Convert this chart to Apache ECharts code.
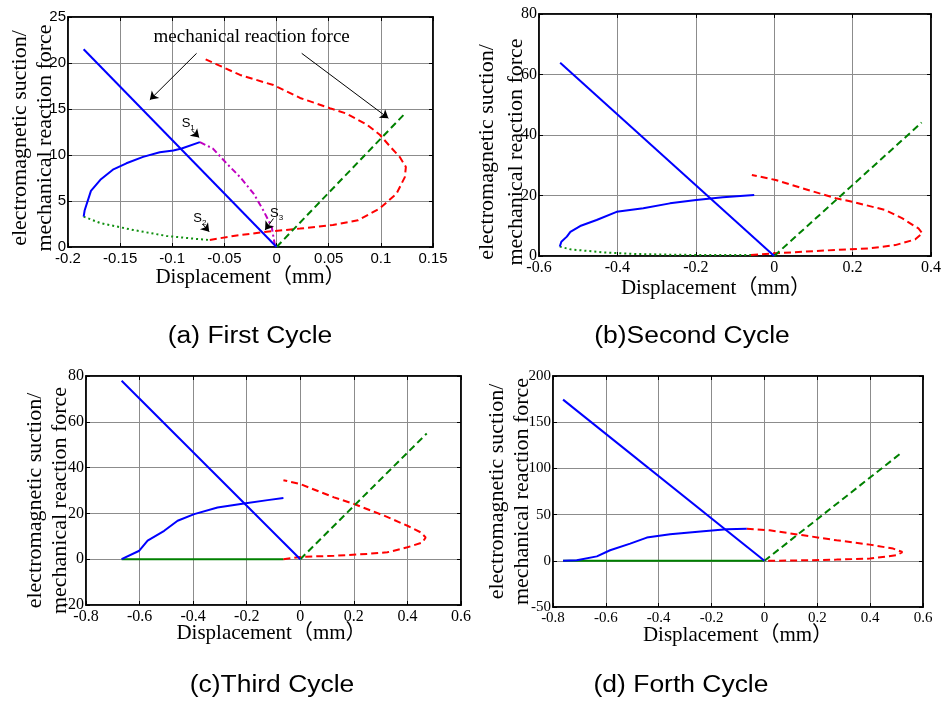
<!DOCTYPE html>
<html>
<head>
<meta charset="utf-8">
<script src="https://cdn.jsdelivr.net/npm/echarts@6/dist/echarts.min.js"></script>
<style>
  html, body { margin: 0; padding: 0; background: #fff; }
  #chart { width: 944px; height: 702px; }
</style>
</head>
<body>
<div id="chart"></div>
<script>
// ---- data: [displacement mm, force] ----
// (a) first cycle
const aMechClose = [[-0.185, 21.5], [0, 0]];
const aSuction = [[-0.185, 3.3], [-0.184, 4.0], [-0.178, 6.1], [-0.169, 7.3], [-0.157, 8.4], [-0.144, 9.1],
  [-0.128, 9.8], [-0.112, 10.3], [-0.099, 10.5], [-0.091, 10.7], [-0.0735, 11.4]];
const aDecay = [[-0.0735, 11.4], [-0.061, 10.7], [-0.048, 9.1], [-0.035, 7.6], [-0.022, 5.8],
  [-0.0128, 4.0], [-0.0047, 2.2], [-0.0015, 0.1]];
const aRelease = [[-0.185, 3.3], [-0.169, 2.6], [-0.1375, 1.85], [-0.1055, 1.2], [-0.0735, 0.84], [-0.064, 0.76]];
const aOpen = [[-0.064, 0.76], [-0.0415, 1.2], [-0.0095, 1.66], [0.0225, 2.0], [0.054, 2.4], [0.078, 2.9],
  [0.099, 4.2], [0.115, 5.8], [0.123, 7.6], [0.124, 8.7], [0.118, 9.8], [0.109, 10.9], [0.099, 12.2],
  [0.0865, 13.3], [0.067, 14.5], [0.051, 15.1], [0.0225, 16.2], [-0.003, 17.6], [-0.035, 18.7], [-0.068, 20.4]];
const aMechOpen = [[0, 0], [0.123, 14.5]];

// (b) second cycle
const bMechClose = [[-0.546, 63.9], [0, 0]];
const bSuction = [[-0.547, 3.1], [-0.543, 4.7], [-0.529, 6.4], [-0.52, 8.0], [-0.495, 9.9], [-0.453, 11.9],
  [-0.402, 14.6], [-0.334, 15.8], [-0.266, 17.4], [-0.199, 18.5], [-0.131, 19.4], [-0.051, 20.2]];
const bRelease = [[-0.547, 3.1], [-0.52, 2.2], [-0.436, 1.2], [-0.351, 0.66], [-0.266, 0.43], [-0.182, 0.33], [-0.059, 0.33]];
const bOpen = [[-0.059, 0.3], [0, 0.9], [0.072, 1.4], [0.157, 2.0], [0.241, 2.5], [0.309, 3.6], [0.36, 5.5],
  [0.378, 7.5], [0.368, 9.1], [0.326, 12.5], [0.283, 15.2], [0.199, 17.95], [0.157, 19.1], [0.072, 22.4],
  [0.004, 25.1], [-0.057, 26.8]];
const bMechOpen = [[0, 0], [0.376, 44.1]];

// (c) third cycle
const cMechClose = [[-0.667, 77.9], [0, 0]];
const cSuction = [[-0.667, 0], [-0.601, 3.7], [-0.57, 8.1], [-0.508, 12.4], [-0.458, 16.8], [-0.396, 19.7],
  [-0.309, 22.6], [-0.21, 24.3], [-0.122, 25.8], [-0.063, 26.7]];
const cRelease = [[-0.667, 0], [-0.063, 0]];
const cOpen = [[-0.063, 0], [0, 1.0], [0.126, 1.5], [0.25, 2.3], [0.325, 3.0], [0.4, 5.2], [0.456, 7.3],
  [0.468, 9.5], [0.45, 11.7], [0.4, 14.6], [0.313, 19.0], [0.201, 24.1], [0.126, 27.0], [0, 32.8], [-0.063, 34.5]];
const cMechOpen = [[0, 0], [0.472, 54.9]];

// (d) forth cycle
const dMechClose = [[-0.762, 174.4], [0, 0]];
const dSuction = [[-0.762, 0], [-0.71, 0.5], [-0.634, 4.8], [-0.584, 11.4], [-0.508, 18.6], [-0.445, 25.1],
  [-0.357, 28.7], [-0.231, 31.9], [-0.143, 34.1], [-0.067, 34.8]];
const dRelease = [[-0.762, 0], [0, 0]];
const dOpen = [[-0.067, 34.8], [0.02, 33], [0.147, 27.6], [0.273, 22.2], [0.399, 17.5], [0.487, 13.2],
  [0.522, 9.5], [0.499, 6.0], [0.399, 2.4], [0.273, 1.3], [0.147, 0.5], [0, 0]];
const dMechOpen = [[0, 0], [0.522, 117.7]];

// axis ranges [min, max, interval]
const aXTicks = [-0.2, 0.15, 0.05], aYTicks = [0, 25, 5];
const bXTicks = [-0.6, 0.4, 0.2], bYTicks = [0, 80, 20];
const cXTicks = [-0.8, 0.6, 0.2], cYTicks = [-20, 80, 20];
const dXTicks = [-0.8, 0.6, 0.2], dYTicks = [-50, 200, 50];

const captions = ['(a) First Cycle', '(b)Second Cycle', '(c)Third Cycle', '(d) Forth Cycle'];
const xName = 'Displacement（mm）';
const yName = 'electromagnetic suction/\nmechanical reaction force';

const serif = "'Liberation Serif', 'Times New Roman', serif";
const nameFont = "'Liberation Serif', 'Noto Sans CJK SC', serif";
const sans = "'Liberation Sans', Arial, sans-serif";

const panels = [
  { grid: { left: 68, top: 17, width: 365, height: 230 }, x: aXTicks, y: aYTicks, font: sans, size: 15,
    xGap: 30, xPad: 0, yGap: 35, yLine: 25, yPad: 12, cap: [250, 337] },
  { grid: { left: 539, top: 14, width: 394, height: 242 }, x: bXTicks, y: bYTicks, font: serif, size: 16,
    xGap: 32, xPad: 38, yGap: 37, yLine: 29, yPad: 34, cap: [692, 337] },
  { grid: { left: 86, top: 376, width: 375, height: 229 }, x: cXTicks, y: cYTicks, font: serif, size: 16,
    xGap: 28, xPad: 4, yGap: 38, yLine: 25, yPad: 20, cap: [272, 686] },
  { grid: { left: 553, top: 376, width: 370, height: 231 }, x: dXTicks, y: dYTicks, font: serif, size: 15,
    xGap: 28, xPad: 0, yGap: 43, yLine: 25, yPad: 0, cap: [681, 686] }
];

const grids = [], xAxes = [], yAxes = [];
panels.forEach(function (p, i) {
  grids.push(Object.assign({ show: true, borderColor: '#000', borderWidth: 1.5, backgroundColor: '#fff' }, p.grid));
  const tick = { inside: true, length: 4, lineStyle: { color: '#000' } };
  xAxes.push({
    type: 'value', gridIndex: i, position: 'bottom', min: p.x[0], max: p.x[1], interval: p.x[2],
    axisLine: { onZero: false, lineStyle: { color: '#000', width: 1.5 } },
    axisTick: tick,
    axisLabel: { color: '#000', fontFamily: p.font, fontSize: p.size, margin: 4 },
    splitLine: { show: true, lineStyle: { color: '#8c8c8c', width: 1 } },
    name: xName, nameLocation: 'middle', nameGap: p.xGap, nameMoveOverlap: false,
    nameTextStyle: { color: '#000', fontFamily: nameFont, fontSize: 21, verticalAlign: 'middle',
      padding: [0, p.xPad, 0, 0] }
  });
  xAxes.push({
    type: 'value', gridIndex: i, position: 'top', min: p.x[0], max: p.x[1], interval: p.x[2],
    axisLine: { onZero: false, lineStyle: { color: '#000', width: 1.5 } },
    axisTick: tick, axisLabel: { show: false }, splitLine: { show: false }
  });
  yAxes.push({
    type: 'value', gridIndex: i, position: 'left', min: p.y[0], max: p.y[1], interval: p.y[2],
    axisLine: { show: true, onZero: false, lineStyle: { color: '#000', width: 1.5 } },
    axisTick: tick,
    axisLabel: { color: '#000', fontFamily: p.font, fontSize: p.size, margin: 2 },
    splitLine: { show: true, lineStyle: { color: '#8c8c8c', width: 1 } },
    name: yName, nameLocation: 'middle', nameGap: p.yGap, nameMoveOverlap: false,
    nameTextStyle: { color: '#000', fontFamily: serif, fontSize: 22, lineHeight: p.yLine, verticalAlign: 'middle',
      padding: [0, p.yPad, 0, 0] }
  });
  yAxes.push({
    type: 'value', gridIndex: i, position: 'right', min: p.y[0], max: p.y[1], interval: p.y[2],
    axisLine: { show: true, onZero: false, lineStyle: { color: '#000', width: 1.5 } },
    axisTick: tick, axisLabel: { show: false }, splitLine: { show: false }
  });
});

const BLUE = '#0000ff', RED = '#ff0000', GREEN = '#008000', DOT_GREEN = '#109010', MAGENTA = '#c000c0';

function line(panel, data, color, dash, extra) {
  return Object.assign({
    type: 'line', xAxisIndex: panel * 2, yAxisIndex: panel * 2, data: data,
    showSymbol: false, symbol: 'none', silent: true,
    lineStyle: { color: color, width: 2, type: dash }
  }, extra || {});
}

const DASH = [7, 4], DOT = [2, 3], DASHDOT = [6, 3, 2, 3];

// annotations of panel (a), in data coordinates
const arrows = [
  [[-0.0767, 21.05], [-0.1215, 16.0]],
  [[0.0241, 21.05], [0.1072, 14.0]],
  [[-0.0815, 12.7], [-0.0742, 11.9]],
  [[-0.071, 2.5], [-0.0646, 1.66]],
  [[-0.003, 3.1], [-0.011, 1.85]]
];
const notes = [
  { at: [-0.0239, 22.86], text: 'mechanical reaction force' },
  { at: [-0.0847, 13.4], text: '{s|S}{n|1}' },
  { at: [-0.0735, 3.1], text: '{s|S}{n|2}' },
  { at: [0.0, 3.66], text: '{s|S}{n|3}' }
];

const annot = {
  markLine: {
    silent: true, symbol: ['none', 'arrow'], symbolSize: 8, animation: false,
    label: { show: false },
    lineStyle: { color: '#000', width: 1, type: 'solid' },
    data: arrows.map(function (a) { return [{ coord: a[0] }, { coord: a[1] }]; })
  },
  markPoint: {
    silent: true, symbol: 'circle', symbolSize: 1, animation: false,
    itemStyle: { color: 'rgba(0,0,0,0)' },
    data: notes.map(function (n, k) {
      return {
        coord: n.at,
        label: k === 0
          ? { show: true, position: 'inside', formatter: n.text, color: '#000', fontFamily: serif, fontSize: 19 }
          : { show: true, position: 'inside', formatter: n.text,
              rich: { s: { fontFamily: sans, fontSize: 13, color: '#000', lineHeight: 16, verticalAlign: 'middle' },
                      n: { fontFamily: sans, fontSize: 8, color: '#000', lineHeight: 9, verticalAlign: 'bottom' } } }
      };
    })
  }
};

const series = [
  line(0, aRelease, DOT_GREEN, DOT),
  line(0, aOpen, RED, DASH),
  line(0, aMechOpen, GREEN, DASH),
  line(0, aDecay, MAGENTA, DASHDOT),
  line(0, aSuction, BLUE, 'solid'),
  line(0, aMechClose, BLUE, 'solid', annot),

  line(1, bRelease, DOT_GREEN, DOT),
  line(1, bOpen, RED, DASH),
  line(1, bMechOpen, GREEN, DASH),
  line(1, bSuction, BLUE, 'solid'),
  line(1, bMechClose, BLUE, 'solid'),

  line(2, cRelease, GREEN, 'solid'),
  line(2, cOpen, RED, DASH),
  line(2, cMechOpen, GREEN, DASH),
  line(2, cSuction, BLUE, 'solid'),
  line(2, cMechClose, BLUE, 'solid'),

  line(3, dRelease, GREEN, 'solid'),
  line(3, dOpen, RED, DASH),
  line(3, dMechOpen, GREEN, DASH),
  line(3, dSuction, BLUE, 'solid'),
  line(3, dMechClose, BLUE, 'solid')
];

const graphic = panels.map(function (p, i) {
  return {
    type: 'text', x: p.cap[0], y: p.cap[1], scaleX: 1.15,
    style: { text: captions[i], fontFamily: sans, fontSize: 23, fill: '#000',
      align: 'center', verticalAlign: 'middle', textAlign: 'center', textVerticalAlign: 'middle' }
  };
});

const chart = echarts.init(document.getElementById('chart'));
chart.setOption({
  animation: false,
  backgroundColor: '#fff',
  grid: grids,
  xAxis: xAxes,
  yAxis: yAxes,
  series: series,
  graphic: graphic
});
</script>
</body>
</html>
